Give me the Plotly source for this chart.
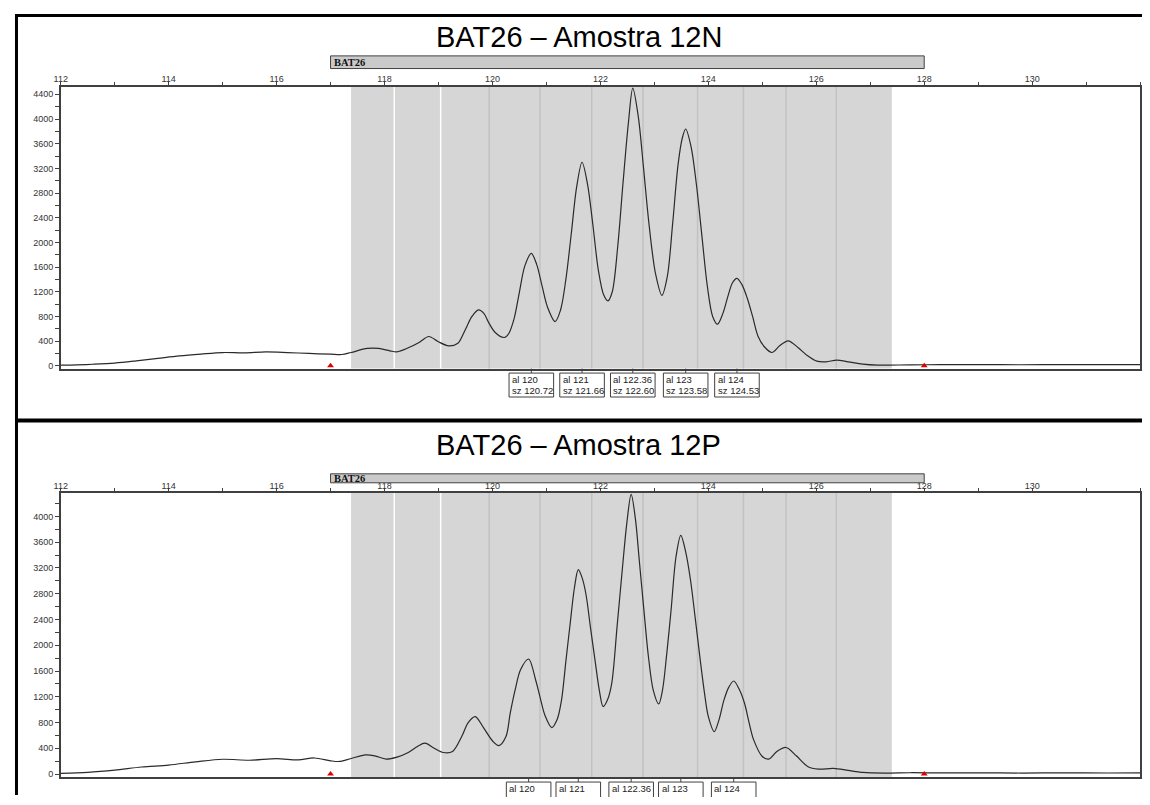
import plotly.graph_objects as go

# The page keeps the browser's default 8 px body margin; the figure is sized so
# that it fits the 1150x805 window exactly. Horizontal positions are mapped with
# the placement measured in earlier renders (left edge lands ~6 px further right).
OFF = 8
W, H = 1150 - 2 * OFF, 805 - 2 * OFF
SX_A, SX_S = 6.3, 0.9944

# ---------------- data ----------------
size_a = [112.0, 112.3, 112.6, 113.0, 113.4, 113.8, 114.2, 114.6, 115.0, 115.4, 115.8, 116.2, 116.6,
          117.00, 117.21, 117.38, 117.68, 117.89, 118.10, 118.23, 118.44, 118.64, 118.82, 118.99, 119.19,
          119.36, 119.45, 119.53, 119.62, 119.74, 119.84, 119.93, 120.05, 120.22,
          120.30, 120.40, 120.50, 120.60, 120.72, 120.82, 120.92, 121.02, 121.16,
          121.26, 121.36, 121.46, 121.56, 121.66, 121.76, 121.86, 121.96, 122.06, 122.14,
          122.22, 122.32, 122.42, 122.52, 122.60, 122.70, 122.80, 122.90, 123.02, 123.14,
          123.24, 123.34, 123.44, 123.52, 123.58, 123.68, 123.78, 123.88, 123.98, 124.08, 124.17,
          124.27, 124.37, 124.45, 124.53, 124.62, 124.72, 124.82, 124.92, 125.05, 125.18,
          125.32, 125.48, 125.66, 125.84, 126.01, 126.18, 126.38, 126.59,
          126.86, 127.14, 127.74, 128.3, 129.0, 129.8, 130.6, 131.4, 132.0]
rfu_a = [10, 15, 25, 45, 80, 120, 160, 190, 215, 210, 225, 215, 200,
         189, 183, 216, 281, 281, 243, 227, 292, 378, 475, 394, 324,
         367, 500, 647, 800, 906, 850, 700, 540, 459,
         520, 760, 1200, 1620, 1822, 1640, 1290, 950, 717,
         900, 1400, 2140, 2900, 3299, 2950, 2290, 1560, 1150, 1052,
         1200, 1926, 2974, 3950, 4501, 4050, 3200, 2300, 1500, 1143,
         1450, 2320, 3270, 3700, 3838, 3550, 2930, 2110, 1300, 800, 674,
         850, 1150, 1350, 1418, 1320, 1100, 800, 480, 297, 216,
         324, 405, 297, 162, 75, 65, 92, 65,
         27, 11, 16, 18, 20, 17, 20, 18, 20]

size_b = [112.0, 112.5, 113.0, 113.5, 114.0, 114.5, 115.0, 115.5, 116.0, 116.4, 116.7,
          117.00, 117.17, 117.38, 117.65, 117.82, 118.03, 118.23, 118.44, 118.61, 118.75, 118.92, 119.09,
          119.26, 119.43, 119.55, 119.68, 119.84, 120.01, 120.12,
          120.25, 120.33, 120.42, 120.52, 120.67, 120.80, 120.88, 120.97, 121.10,
          121.20, 121.28, 121.36, 121.44, 121.52, 121.59, 121.66, 121.73, 121.82, 121.90, 121.98, 122.05,
          122.13, 122.21, 122.31, 122.41, 122.49, 122.57, 122.65, 122.72, 122.80, 122.89, 122.98, 123.08,
          123.15, 123.23, 123.31, 123.40, 123.49, 123.58, 123.67, 123.76, 123.85, 123.93, 124.00, 124.11,
          124.20, 124.29, 124.38, 124.47, 124.57, 124.67, 124.76, 124.84, 125.00, 125.12,
          125.27, 125.44, 125.63, 125.84, 126.04, 126.32, 126.59, 126.86, 127.27, 127.74,
          128.3, 129.0, 129.8, 130.6, 131.4, 132.0]
rfu_b = [10, 25, 60, 110, 140, 190, 230, 215, 240, 220, 250,
         206, 196, 242, 299, 284, 232, 263, 335, 428, 480, 402, 335,
         351, 583, 800, 893, 712, 506, 443,
         583, 950, 1306, 1620, 1786, 1460, 1200, 918, 722,
         850, 1151, 1750, 2338, 2900, 3174, 3050, 2803, 2250, 1770, 1300, 1048,
         1150, 1409, 2300, 3216, 3900, 4341, 3950, 3319, 2600, 1822, 1300, 1089,
         1300, 1873, 2550, 3370, 3706, 3450, 3009, 2400, 1770, 1250, 893, 660,
         850, 1151, 1350, 1445, 1320, 1099, 780, 531, 273, 232,
         351, 413, 284, 119, 77, 88, 57, 26, 15, 21,
         18, 20, 16, 19, 17, 20]

titles = ["BAT26 \u2013 Amostra 12N", "BAT26 \u2013 Amostra 12P"]
allele_labels = ["120", "121", "122.36", "123", "124"]
sizes_a = [120.72, 121.66, 122.60, 123.58, 124.53]
sizes_b = [120.67, 121.59, 122.57, 123.49, 124.47]
bin_lo, bin_hi = 117.38, 127.40
bin_edges = [118.18, 119.04, 119.94, 120.88, 121.84, 122.79, 123.80, 124.65, 125.44, 126.37]
marker_lo, marker_hi = 117.0, 128.0
x_ticks = [112, 114, 116, 118, 120, 122, 124, 126, 128, 130, 132]
y_ticks = [0, 400, 800, 1200, 1600, 2000, 2400, 2800, 3200, 3600, 4000, 4400]

# ---------------- geometry (reference pixels -> paper) ----------------
def px(X):
    return ((X - SX_A) / SX_S - OFF) / W

def py(Y):
    return 1 - (Y - OFF) / H

UNIT_PX = 54.0          # pixels per size unit on the x axis
BOX_HALF = 22.3 / UNIT_PX

panels = [
    dict(x="x", y="y", top=86.7, bot=369.5, yr=[-45, 4527], bar=(56, 68.7), title_y=37.5,
         size=size_a, rfu=rfu_a, sizes=sizes_a, box_top=374, box_bot=398),
    dict(x="x2", y="y2", top=494.3, bot=779.0, yr=[-46, 4362], bar=(475, 484), title_y=446,
         size=size_b, rfu=rfu_b, sizes=sizes_b, box_top=784, box_bot=808),
]

fig = go.Figure()
shapes, annos = [], []
font_axis = dict(family="Liberation Sans, Arial", size=9, color="#333333")
font_box = dict(family="Liberation Sans, Arial", size=9.5, color="#222222")

for i, p in enumerate(panels):
    fig.add_trace(go.Scatter(x=p["size"], y=p["rfu"], mode="lines", xaxis=p["x"], yaxis=p["y"],
                             line=dict(color="#2a2a2a", width=1.2, shape="spline", smoothing=0.9),
                             showlegend=False, hoverinfo="skip"))
    fig.add_trace(go.Scatter(x=[marker_lo, marker_hi], y=[0, 0], mode="markers", xaxis=p["x"], yaxis=p["y"],
                             marker=dict(symbol="triangle-up", size=6, color="#e00000"),
                             cliponaxis=False, showlegend=False, hoverinfo="skip"))
    xa = "xaxis" if i == 0 else "xaxis2"
    ya = "yaxis" if i == 0 else "yaxis2"
    fig.layout[xa] = dict(domain=[px(60), px(1140)], range=[112, 132], side="top", anchor=p["y"],
                          showgrid=False, zeroline=False, showline=True, linecolor="#404040", linewidth=1.5,
                          mirror=True, ticks="outside", ticklen=3, tickcolor="#404040", tickvals=x_ticks,
                          ticklabelstandoff=-4,
                          minor=dict(dtick=1, ticks="outside", ticklen=3, tickcolor="#404040"),
                          tickfont=font_axis, fixedrange=True)
    fig.layout[ya] = dict(domain=[py(p["bot"]), py(p["top"])], range=p["yr"], anchor=p["x"],
                          showgrid=False, zeroline=False, showline=True, linecolor="#404040", linewidth=1.5,
                          mirror=True, ticks="outside", ticklen=4, tickcolor="#404040", tickvals=y_ticks,
                          minor=dict(dtick=200, ticks="outside", ticklen=4, tickcolor="#404040"),
                          tickfont=font_axis, fixedrange=True)
    yd = p["y"] + " domain"
    # bin region
    shapes.append(dict(type="rect", xref=p["x"], yref=yd, x0=bin_lo, x1=bin_hi, y0=0, y1=1,
                       fillcolor="#d6d6d6", line=dict(width=0), layer="below"))
    for k, e in enumerate(bin_edges):
        shapes.append(dict(type="line", xref=p["x"], yref=yd, x0=e, x1=e, y0=0, y1=1,
                           line=dict(color="#ffffff" if k < 2 else "#c2c2c2", width=1.5), layer="below"))
    # marker bar
    shapes.append(dict(type="rect", xref=p["x"], yref="paper", x0=marker_lo, x1=marker_hi,
                       y0=py(p["bar"][1]), y1=py(p["bar"][0]), fillcolor="#cacaca",
                       line=dict(color="#404040", width=1)))
    annos.append(dict(text="<b>BAT26</b>", xref=p["x"], yref="paper", x=marker_lo, xanchor="left", xshift=1,
                      y=py((p["bar"][0] + p["bar"][1]) / 2), yanchor="middle", showarrow=False,
                      font=dict(family="Liberation Serif, Times New Roman", size=10.5, color="#111111")))
    # title
    annos.append(dict(text=titles[i], xref="paper", yref="paper", x=px(578.5), y=py(p["title_y"]),
                      xanchor="center", yanchor="middle", showarrow=False,
                      font=dict(family="Liberation Sans, Arial", size=29, color="#000000")))
    # allele boxes
    for lab, s in zip(allele_labels, p["sizes"]):
        shapes.append(dict(type="line", xref=p["x"], yref="paper", x0=s, x1=s,
                           y0=py(p["bot"]), y1=py(p["box_top"]), line=dict(color="#404040", width=1)))
        shapes.append(dict(type="rect", xref=p["x"], yref="paper", x0=s - BOX_HALF, x1=s + BOX_HALF,
                           y0=py(p["box_bot"]), y1=py(p["box_top"]), fillcolor="#ffffff",
                           line=dict(color="#404040", width=1)))
        for j, t in enumerate(["al " + lab, "sz %.2f" % s]):
            annos.append(dict(text=t, xref=p["x"], yref="paper", x=s - BOX_HALF, xanchor="left", xshift=1,
                              y=py(p["box_top"] + 6.3 + 11 * j), yanchor="middle", showarrow=False,
                              font=font_box))

# outer frame (left line kept just inside the figure so it stays visible)
frame = dict(color="#000000", width=3)
left = max(px(11.5), 1.5 / W)
shapes += [
    dict(type="line", xref="paper", yref="paper", x0=left, x1=1.0, y0=py(15.5), y1=py(15.5), line=frame),
    dict(type="line", xref="paper", yref="paper", x0=left, x1=left, y0=py(14), y1=0, line=frame),
    dict(type="line", xref="paper", yref="paper", x0=left, x1=1.0, y0=py(421.5), y1=py(421.5),
         line=dict(color="#000000", width=4)),
]

fig.update_layout(width=W, height=H, margin=dict(l=0, r=0, t=0, b=0),
                  paper_bgcolor="#ffffff", plot_bgcolor="#ffffff",
                  shapes=shapes, annotations=annos, showlegend=False)

fig.write_html("out.html", config={"displayModeBar": False})
